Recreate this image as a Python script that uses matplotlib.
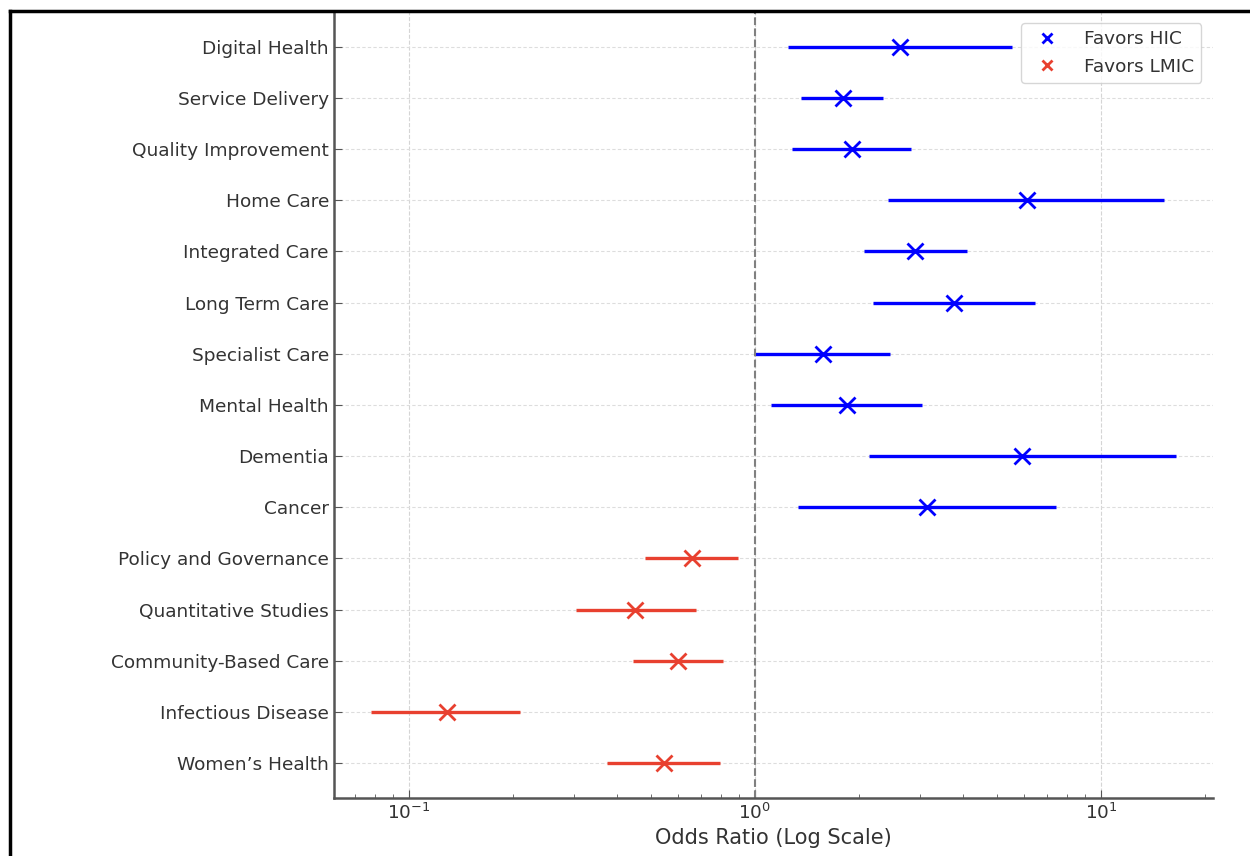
import matplotlib.pyplot as plt
import numpy as np
from matplotlib.lines import Line2D

# categories, top to bottom
categories = [
    "Digital Health",
    "Service Delivery",
    "Quality Improvement",
    "Home Care",
    "Integrated Care",
    "Long Term Care",
    "Specialist Care",
    "Mental Health",
    "Dementia",
    "Cancer",
    "Policy and Governance",
    "Quantitative Studies",
    "Community-Based Care",
    "Infectious Disease",
    "Women\u2019s Health",
]
odds_ratio = [2.63, 1.80, 1.91, 6.10, 2.91, 3.75, 1.57, 1.85, 5.90, 3.15,
              0.657, 0.449, 0.598, 0.129, 0.545]
ci_low = [1.25, 1.36, 1.28, 2.43, 2.07, 2.20, 1.00, 1.11, 2.13, 1.33,
          0.483, 0.305, 0.443, 0.078, 0.375]
ci_high = [5.52, 2.35, 2.83, 15.2, 4.09, 6.44, 2.46, 3.05, 16.5, 7.41,
           0.893, 0.675, 0.808, 0.210, 0.792]

BLUE = "#0000ff"
RED = "#e8402f"

fig = plt.figure(figsize=(12.5, 8.56), dpi=100)
ax = fig.add_axes([0.267, 0.068, 0.703, 0.918])

n = len(categories)
ypos = np.arange(n)[::-1]

for y, orv, lo, hi in zip(ypos, odds_ratio, ci_low, ci_high):
    color = BLUE if orv > 1 else RED
    ax.errorbar(
        orv, y,
        xerr=[[orv - lo], [hi - orv]],
        fmt="x", color=color, ecolor=color,
        elinewidth=2.4, capsize=0,
        markersize=12, markeredgewidth=2,
    )

ax.axvline(1, color="grey", linestyle="--", linewidth=1.5)

ax.set_xscale("log")
ax.set_xlim(0.0607, 21)
ax.set_ylim(-0.68, n - 1 + 0.68)
ax.set_yticks(ypos)
ax.set_yticklabels(categories, fontsize=13.3, color="#333333")
ax.tick_params(axis="x", which="major", labelsize=13.3, labelcolor="#333333",
               direction="in", length=6, color="#555555")
ax.tick_params(axis="x", which="minor", direction="in", length=3, color="#555555")
ax.tick_params(axis="y", direction="in", length=6, color="#555555")
ax.set_xlabel("Odds Ratio (Log Scale)", fontsize=15, color="#333333")

ax.grid(True, axis="x", which="major", linestyle="--", color="#d5d5d5", linewidth=0.8)
ax.grid(True, axis="y", which="major", linestyle=(0, (3, 2)), color="#dddddd", linewidth=0.8)

for side in ["top", "right"]:
    ax.spines[side].set_visible(False)
for side in ["left", "bottom"]:
    ax.spines[side].set_color("#555555")
    ax.spines[side].set_linewidth(1.8)

handles = [
    Line2D([], [], linestyle="none", marker="x", color=BLUE, markersize=7,
           markeredgewidth=2, label="Favors HIC"),
    Line2D([], [], linestyle="none", marker="x", color=RED, markersize=7,
           markeredgewidth=2, label="Favors LMIC"),
]
ax.legend(handles=handles, loc="upper right", fontsize=13.3,
          labelcolor="#333333", handletextpad=1.0, borderaxespad=0.6)

# screenshot frame
fig.add_artist(Line2D([10 / 1250, 10 / 1250], [0, 1 - 11 / 856], color="black",
                      linewidth=2.5, transform=fig.transFigure))
fig.add_artist(Line2D([10 / 1250, 1], [1 - 11 / 856, 1 - 11 / 856], color="black",
                      linewidth=2.5, transform=fig.transFigure))

plt.savefig("out.png", dpi=100)
